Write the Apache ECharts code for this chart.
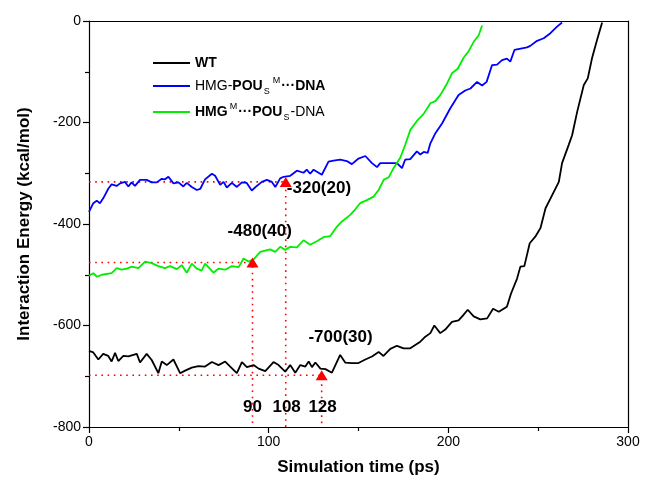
<!DOCTYPE html>
<html>
<head>
<meta charset="utf-8">
<script src="https://cdn.jsdelivr.net/npm/echarts@6/dist/echarts.min.js"></script>
<style>html,body{margin:0;padding:0;background:#fff}#c{width:648px;height:486px}</style>
</head>
<body>
<div id="c"></div>
<script>
// ---- data ----
const wtTime = [0,2.4,5.2,7.9,10.7,12.6,14.5,16.3,19.1,21.9,26.6,28.4,32.1,34.9,38.6,40.5,43.3,47,50.7,53.5,57.2,60.9,64.6,68.4,72.1,75.8,78.6,82.3,85.1,87.9,91.6,94.4,98.1,102.7,105.5,109.2,112,114.8,117.6,120.4,122.3,124.1,126,128.8,131.6,135.2,139.8,142.6,146.3,150,153.8,157.5,161.2,163.9,167.7,171.4,175.1,178.8,184.4,187.2,190,192.2,195.5,198.3,202,205.7,208.2,210.8,214.1,217.8,221.6,224.9,228.1,232.6,234.9,238.3,240.1,242.3,245.3,248.4,251.3,254.1,257.8,261.5,263.3,267,268.9,271.7,275.4,277.6,280,282.8,285.6];
const wtEnergy = [-650,-653,-667,-656,-660,-671,-654,-670,-660,-661,-656,-673,-656,-668,-694,-671,-678,-667,-694,-689,-683,-680,-681,-672,-678,-671,-681,-694,-672,-682,-678,-685,-690,-672,-678,-691,-678,-693,-678,-681,-671,-682,-673,-685,-686,-693,-658,-673,-674,-674,-667,-661,-652,-660,-646,-640,-645,-645,-632,-622,-615,-600,-615,-608,-593,-590,-580,-569,-582,-588,-586,-567,-573,-563,-537,-507,-484,-483,-438,-425,-408,-369,-343,-317,-280,-244,-225,-179,-126,-113,-73,-37,-3];

const pouTime = [0,2.4,4.3,6.1,8,10.8,12.6,15.4,17.3,20,21.9,23.7,25.6,28.4,32.1,34.9,37.7,40.5,42.3,44.2,47,49.8,52.5,54.4,57.2,60,61.9,64.6,68.4,70.2,73,74.9,76.7,79.5,82.3,85.1,87.8,90.6,93.4,96.2,99,101.8,103.7,106.4,108.3,112,115.7,119.4,121.2,123.1,125,129.6,133.3,136.1,139.8,143.5,146.3,150,153.8,157.5,160.3,162.1,165.8,171.4,174.2,176,178.8,182.5,184.4,186.3,188.5,190,192.8,196.5,201.1,205.7,209.4,212.3,216,218.8,221.3,224.3,227.1,229.9,232.6,234.5,236.8,241,243.8,245.6,249.4,253.1,256.8,260.5,263.3];
const pouEnergy = [-376,-359,-354,-359,-349,-330,-322,-325,-320,-317,-326,-318,-325,-313,-313,-318,-318,-311,-312,-307,-320,-318,-326,-319,-327,-333,-331,-312,-301,-305,-323,-317,-328,-319,-327,-318,-319,-334,-325,-317,-313,-317,-327,-310,-307,-305,-295,-299,-293,-301,-293,-303,-277,-275,-273,-276,-282,-271,-266,-280,-288,-280,-280,-280,-290,-273,-272,-257,-263,-258,-260,-241,-221,-202,-172,-146,-137,-133,-120,-127,-120,-87,-86,-77,-74,-80,-57,-54,-52,-49,-39,-34,-24,-11,-3];

const hmgTime = [0,2.4,4.5,7.2,12.6,15.4,18.2,21,23.8,27.5,31.2,34.9,38.6,42.3,45.1,48.9,51.6,54.4,57.2,60,62.7,64.6,69.3,72,75.8,79.5,83.3,86,88.8,91.5,95.3,100.8,103.6,106.4,109.2,112,115.7,119.4,123.1,126.8,130.5,134.2,138,140.8,145.4,148.2,150.9,154.7,158.4,161.2,164,166.8,169.5,173.3,176,178.8,182.5,186.3,190,192.8,195.5,199.3,202,205.2,208.6,211.4,214.1,216.9,218.8];
const hmgEnergy = [-502,-497,-504,-500,-497,-487,-490,-488,-484,-487,-474,-477,-483,-487,-483,-489,-481,-496,-478,-488,-492,-478,-496,-488,-490,-483,-485,-468,-474,-470,-455,-450,-455,-445,-451,-445,-446,-432,-441,-434,-426,-424,-405,-395,-382,-371,-359,-353,-346,-333,-313,-308,-290,-269,-244,-215,-197,-183,-162,-158,-146,-123,-103,-94,-72,-59,-41,-28,-9];

const markTime = [91, 109.5, 129.5];
const markEnergy = [-476, -317, -698];

const noteText = ['-320(20)', '-480(40)', '-700(30)', '90', '108', '128'];
const noteTime = [128, 95, 140, 91, 110, 130];
const noteEnergy = [-330, -414, -624, -761, -761, -761];

const xTicks = [0, 100, 200, 300];
const yTicks = [-800, -600, -400, -200, 0];

const seriesNames = ['WT', 'HMG-POUs(M)-DNA', 'HMG(M)-POUs-DNA'];
// ---------------------------------------

const zip = (a, b) => a.map((v, i) => [v, b[i]]);
const FONT = '"Liberation Sans", Arial, Helvetica, sans-serif';

const legendRich = {
  n: {fontSize: 14, fontFamily: FONT, color: '#000', fontWeight: 'normal'},
  b: {fontSize: 14, fontFamily: FONT, color: '#000', fontWeight: 'bold'},
  sup: {fontSize: 9, fontFamily: FONT, color: '#000', padding: [0, 1, 11, 2]},
  sub: {fontSize: 9, fontFamily: FONT, color: '#000', padding: [11, 1, 0, 1]}
};
const legendLabel = {
  'WT': '{b|WT}',
  'HMG-POUs(M)-DNA': '{n|HMG-}{b|POU}{sub|S}{sup|M}{b|···DNA}',
  'HMG(M)-POUs-DNA': '{b|HMG}{sup|M}{b|···POU}{sub|S}{n|-DNA}'
};

const series = [
  {name: seriesNames[0], type: 'line', data: zip(wtTime, wtEnergy), symbol: 'none', lineStyle: {color: '#000000', width: 1.8}, itemStyle: {color: '#000000'}, z: 5},
  {name: seriesNames[1], type: 'line', data: zip(pouTime, pouEnergy), symbol: 'none', lineStyle: {color: '#0000ff', width: 1.8}, itemStyle: {color: '#0000ff'}, z: 5},
  {name: seriesNames[2], type: 'line', data: zip(hmgTime, hmgEnergy), symbol: 'none', lineStyle: {color: '#00ee00', width: 1.8}, itemStyle: {color: '#00ee00'}, z: 5}
];
markTime.forEach((t, i) => {
  series.push({
    type: 'line', symbol: 'none', silent: true, z: 3,
    data: [[0, markEnergy[i]], [t, markEnergy[i]], [t, yTicks[0]]],
    lineStyle: {color: '#ff0000', width: 1.6, type: [1.6, 4.6]}
  });
});
series.push({
  type: 'scatter', symbol: 'triangle', symbolSize: [12, 10], z: 8,
  itemStyle: {color: '#ff0000', opacity: 1},
  data: zip(markTime, markEnergy)
});
series.push({
  type: 'scatter', symbolSize: 0, z: 9, silent: true,
  itemStyle: {opacity: 1},
  data: noteText.map((s, i) => ({value: [noteTime[i], noteEnergy[i]], name: s})),
  label: {show: true, position: 'inside', formatter: p => p.name, color: '#000', fontSize: 17, fontWeight: 'bold', fontFamily: FONT}
});

const axisBase = {
  axisLine: {show: true, onZero: false, lineStyle: {color: '#000', width: 1.2}},
  splitLine: {show: false}
};

const option = {
  animation: false,
  backgroundColor: '#fff',
  grid: {left: 89, right: 20, top: 21, bottom: 59},
  legend: {
    data: seriesNames,
    orient: 'vertical', left: 148, top: 51,
    itemWidth: 37, itemHeight: 2, itemGap: 6,
    icon: 'rect',
    formatter: n => legendLabel[n],
    textStyle: {rich: legendRich}
  },
  xAxis: [
    Object.assign({}, axisBase, {
      type: 'value', min: xTicks[0], max: xTicks[xTicks.length - 1], interval: 100,
      name: 'Simulation time (ps)', nameLocation: 'middle', nameGap: 32,
      nameTextStyle: {fontSize: 17, fontWeight: 'bold', fontFamily: FONT, color: '#000'},
      axisTick: {show: true, length: 6, lineStyle: {color: '#000', width: 1.2}},
      minorTick: {show: true, splitNumber: 2, length: 4, lineStyle: {color: '#000', width: 1.2}},
      axisLabel: {fontSize: 14, fontFamily: FONT, color: '#000', margin: 8}
    }),
    Object.assign({}, axisBase, {
      type: 'value', position: 'top', min: 0, max: 300,
      axisTick: {show: false}, axisLabel: {show: false}
    })
  ],
  yAxis: [
    Object.assign({}, axisBase, {
      type: 'value', min: yTicks[0], max: yTicks[yTicks.length - 1], interval: 200,
      name: 'Interaction Energy (kcal/mol)', nameLocation: 'middle', nameGap: 56,
      nameTextStyle: {fontSize: 17, fontWeight: 'bold', fontFamily: FONT, color: '#000'},
      axisTick: {show: true, length: 6, lineStyle: {color: '#000', width: 1.2}},
      minorTick: {show: true, splitNumber: 2, length: 4, lineStyle: {color: '#000', width: 1.2}},
      axisLabel: {fontSize: 14, fontFamily: FONT, color: '#000', margin: 8}
    }),
    Object.assign({}, axisBase, {
      type: 'value', position: 'right', min: -800, max: 0,
      axisTick: {show: false}, axisLabel: {show: false}
    })
  ],
  series: series
};

const chart = echarts.init(document.getElementById('c'), null, {renderer: 'canvas'});
chart.setOption(option);
</script>
</body>
</html>
